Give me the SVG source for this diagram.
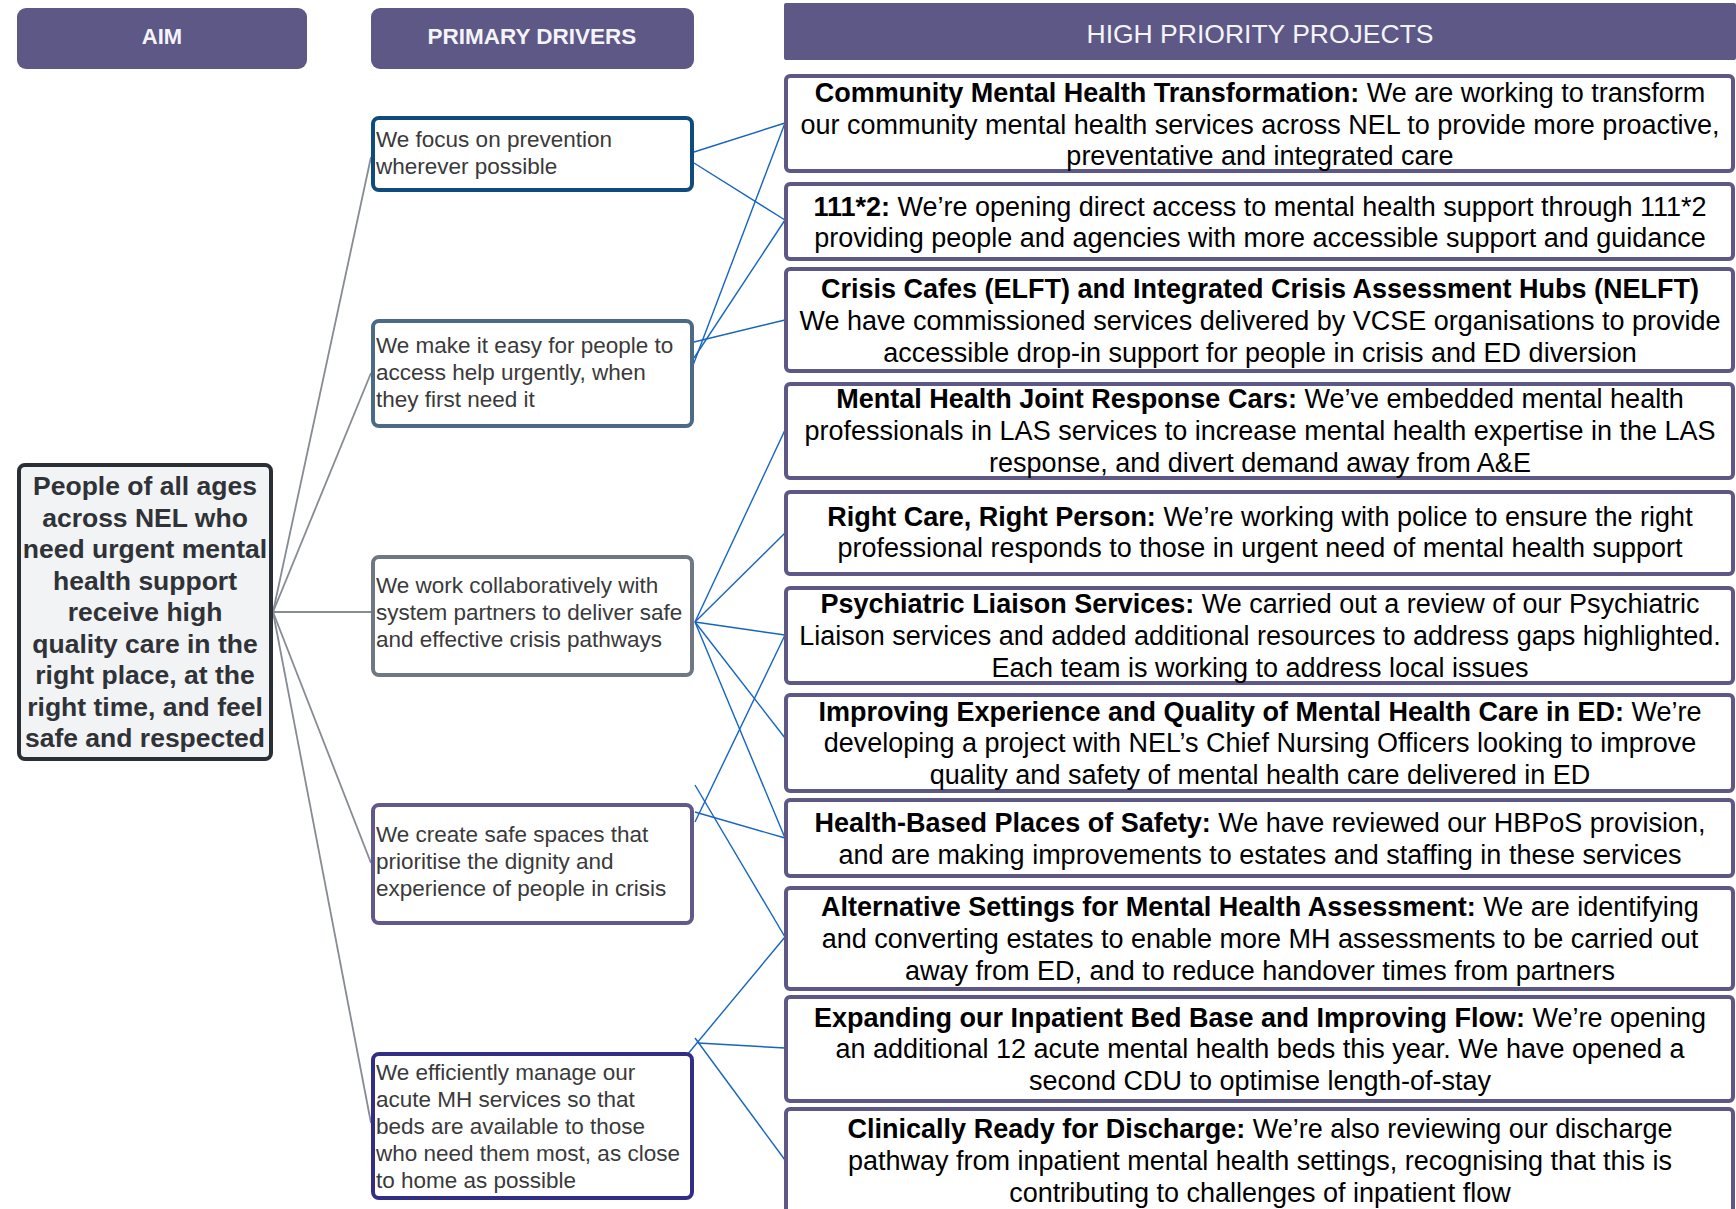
<svg xmlns="http://www.w3.org/2000/svg" width="1736" height="1209" viewBox="0 0 1736 1209">
<style>
.hdr{fill:#5e5887;}
.hdrt{fill:#f4f4f8;font-family:"Liberation Sans",Arial,sans-serif;text-anchor:middle;}
.proj{fill:#ffffff;stroke:#5e5887;stroke-width:4;}
.pt{font-family:"Liberation Sans",Arial,sans-serif;font-size:27px;fill:#000;text-anchor:middle;}
.b{font-weight:bold;}
.drv{fill:#ffffff;stroke-width:4;}
.dt{font-family:"Liberation Sans",Arial,sans-serif;font-size:22.5px;fill:#3a3a3a;}
.aim{fill:#f2f3f5;stroke:#2a2e35;stroke-width:4;}
.at{font-family:"Liberation Sans",Arial,sans-serif;font-size:26.5px;font-weight:bold;fill:#2f3237;text-anchor:middle;}
.gl{stroke:#868b94;stroke-width:1.8;fill:none;}
.bl{stroke:#1565c0;stroke-width:1.4;fill:none;}
</style>

<g id="connectors">
  <line class="gl" x1="273" y1="612" x2="371" y2="157"/>
  <line class="gl" x1="273" y1="612" x2="371" y2="373"/>
  <line class="gl" x1="273" y1="612" x2="371" y2="612"/>
  <line class="gl" x1="273" y1="612" x2="371" y2="863"/>
  <line class="gl" x1="273" y1="612" x2="371" y2="1123"/>

  <line class="bl" x1="694" y1="152" x2="785" y2="123"/>
  <line class="bl" x1="694" y1="163" x2="785" y2="220"/>
  <line class="bl" x1="692" y1="368" x2="785" y2="123"/>
  <line class="bl" x1="694" y1="358" x2="785" y2="220"/>
  <line class="bl" x1="694" y1="342" x2="785" y2="320"/>
  <line class="bl" x1="695" y1="622" x2="785" y2="430"/>
  <line class="bl" x1="695" y1="622" x2="785" y2="533"/>
  <line class="bl" x1="695" y1="622" x2="785" y2="635"/>
  <line class="bl" x1="695" y1="622" x2="785" y2="738"/>
  <line class="bl" x1="695" y1="622" x2="785" y2="838"/>
  <line class="bl" x1="695" y1="822" x2="785" y2="635"/>
  <line class="bl" x1="695" y1="812" x2="785" y2="838"/>
  <line class="bl" x1="695" y1="785" x2="785" y2="937"/>
  <line class="bl" x1="687" y1="1055" x2="785" y2="937"/>
  <line class="bl" x1="698" y1="1043" x2="785" y2="1048"/>
  <line class="bl" x1="695" y1="1038" x2="785" y2="1160"/>
</g>

<g id="header-aim">
  <rect class="hdr" x="17" y="8" width="290" height="61" rx="9"/>
  <text class="hdrt b" x="162" y="44" font-size="22">AIM</text>
</g>
<g id="header-drivers">
  <rect class="hdr" x="371" y="8" width="323" height="61" rx="9"/>
  <text class="hdrt b" x="532" y="44" font-size="22.5">PRIMARY DRIVERS</text>
</g>
<g id="header-projects">
  <rect class="hdr" x="784" y="3" width="952" height="57" rx="2"/>
  <text class="hdrt" x="1260" y="43" font-size="26.5">HIGH PRIORITY PROJECTS</text>
</g>

<g id="aim">
  <rect class="aim" x="19" y="465" width="252" height="294" rx="6"/>
  <text class="at" x="145" y="495">People of all ages</text>
  <text class="at" x="145" y="526.5">across NEL who</text>
  <text class="at" x="145" y="558">need urgent mental</text>
  <text class="at" x="145" y="589.5">health support</text>
  <text class="at" x="145" y="621">receive high</text>
  <text class="at" x="145" y="652.5">quality care in the</text>
  <text class="at" x="145" y="684">right place, at the</text>
  <text class="at" x="145" y="715.5">right time, and feel</text>
  <text class="at" x="145" y="747">safe and respected</text>
</g>

<g id="driver-1">
  <rect class="drv" x="373" y="118" width="319" height="72" rx="6" stroke="#0f4c7d"/>
  <text class="dt" x="376" y="147">We focus on prevention</text>
  <text class="dt" x="376" y="174">wherever possible</text>
</g>
<g id="driver-2">
  <rect class="drv" x="373" y="321" width="319" height="105" rx="6" stroke="#4b6a85"/>
  <text class="dt" x="376" y="353">We make it easy for people to</text>
  <text class="dt" x="376" y="380">access help urgently, when</text>
  <text class="dt" x="376" y="407">they first need it</text>
</g>
<g id="driver-3">
  <rect class="drv" x="373" y="557" width="319" height="118" rx="6" stroke="#6f7782"/>
  <text class="dt" x="376" y="593">We work collaboratively with</text>
  <text class="dt" x="376" y="620">system partners to deliver safe</text>
  <text class="dt" x="376" y="647">and effective crisis pathways</text>
</g>
<g id="driver-4">
  <rect class="drv" x="373" y="805" width="319" height="118" rx="6" stroke="#5f5a8a"/>
  <text class="dt" x="376" y="842">We create safe spaces that</text>
  <text class="dt" x="376" y="869">prioritise the dignity and</text>
  <text class="dt" x="376" y="896">experience of people in crisis</text>
</g>
<g id="driver-5">
  <rect class="drv" x="373" y="1054" width="319" height="144" rx="6" stroke="#332e85"/>
  <text class="dt" x="376" y="1080">We efficiently manage our</text>
  <text class="dt" x="376" y="1107">acute MH services so that</text>
  <text class="dt" x="376" y="1134">beds are available to those</text>
  <text class="dt" x="376" y="1161">who need them most, as close</text>
  <text class="dt" x="376" y="1188">to home as possible</text>
</g>

<g id="project-1">
  <rect class="proj" x="786" y="76" width="947" height="95" rx="4"/>
  <text class="pt" x="1260" y="102"><tspan class="b">Community Mental Health Transformation:</tspan> We are working to transform</text>
  <text class="pt" x="1260" y="133.5">our community mental health services across NEL to provide more proactive,</text>
  <text class="pt" x="1260" y="165">preventative and integrated care</text>
</g>
<g id="project-2">
  <rect class="proj" x="786" y="184" width="947" height="75" rx="4"/>
  <text class="pt" x="1260" y="216"><tspan class="b">111*2:</tspan> We’re opening direct access to mental health support through 111*2</text>
  <text class="pt" x="1260" y="247">providing people and agencies with more accessible support and guidance</text>
</g>
<g id="project-3">
  <rect class="proj" x="786" y="269" width="947" height="102" rx="4"/>
  <text class="pt b" x="1260" y="298">Crisis Cafes (ELFT) and Integrated Crisis Assessment Hubs (NELFT)</text>
  <text class="pt" x="1260" y="330">We have commissioned services delivered by VCSE organisations to provide</text>
  <text class="pt" x="1260" y="362">accessible drop-in support for people in crisis and ED diversion</text>
</g>
<g id="project-4">
  <rect class="proj" x="786" y="384" width="947" height="94" rx="4"/>
  <text class="pt" x="1260" y="408"><tspan class="b">Mental Health Joint Response Cars:</tspan> We’ve embedded mental health</text>
  <text class="pt" x="1260" y="440">professionals in LAS services to increase mental health expertise in the LAS</text>
  <text class="pt" x="1260" y="472">response, and divert demand away from A&amp;E</text>
</g>
<g id="project-5">
  <rect class="proj" x="786" y="492" width="947" height="82" rx="4"/>
  <text class="pt" x="1260" y="526"><tspan class="b">Right Care, Right Person:</tspan> We’re working with police to ensure the right</text>
  <text class="pt" x="1260" y="557">professional responds to those in urgent need of mental health support</text>
</g>
<g id="project-6">
  <rect class="proj" x="786" y="588" width="947" height="95" rx="4"/>
  <text class="pt" x="1260" y="613"><tspan class="b">Psychiatric Liaison Services:</tspan> We carried out a review of our Psychiatric</text>
  <text class="pt" x="1260" y="645">Liaison services and added additional resources to address gaps highlighted.</text>
  <text class="pt" x="1260" y="677">Each team is working to address local issues</text>
</g>
<g id="project-7">
  <rect class="proj" x="786" y="695" width="947" height="96" rx="4"/>
  <text class="pt" x="1260" y="721"><tspan class="b">Improving Experience and Quality of Mental Health Care in ED:</tspan> We’re</text>
  <text class="pt" x="1260" y="752">developing a project with NEL’s Chief Nursing Officers looking to improve</text>
  <text class="pt" x="1260" y="784">quality and safety of mental health care delivered in ED</text>
</g>
<g id="project-8">
  <rect class="proj" x="786" y="800" width="947" height="76" rx="4"/>
  <text class="pt" x="1260" y="832"><tspan class="b">Health-Based Places of Safety:</tspan> We have reviewed our HBPoS provision,</text>
  <text class="pt" x="1260" y="864">and are making improvements to estates and staffing in these services</text>
</g>
<g id="project-9">
  <rect class="proj" x="786" y="888" width="947" height="101" rx="4"/>
  <text class="pt" x="1260" y="916"><tspan class="b">Alternative Settings for Mental Health Assessment:</tspan> We are identifying</text>
  <text class="pt" x="1260" y="948">and converting estates to enable more MH assessments to be carried out</text>
  <text class="pt" x="1260" y="980">away from ED, and to reduce handover times from partners</text>
</g>
<g id="project-10">
  <rect class="proj" x="786" y="997" width="947" height="104" rx="4"/>
  <text class="pt" x="1260" y="1027"><tspan class="b">Expanding our Inpatient Bed Base and Improving Flow:</tspan> We’re opening</text>
  <text class="pt" x="1260" y="1058">an additional 12 acute mental health beds this year. We have opened a</text>
  <text class="pt" x="1260" y="1090">second CDU to optimise length-of-stay</text>
</g>
<g id="project-11">
  <rect class="proj" x="786" y="1109" width="947" height="110" rx="4"/>
  <text class="pt" x="1260" y="1138"><tspan class="b">Clinically Ready for Discharge:</tspan> We’re also reviewing our discharge</text>
  <text class="pt" x="1260" y="1170">pathway from inpatient mental health settings, recognising that this is</text>
  <text class="pt" x="1260" y="1202">contributing to challenges of inpatient flow</text>
</g>
</svg>
